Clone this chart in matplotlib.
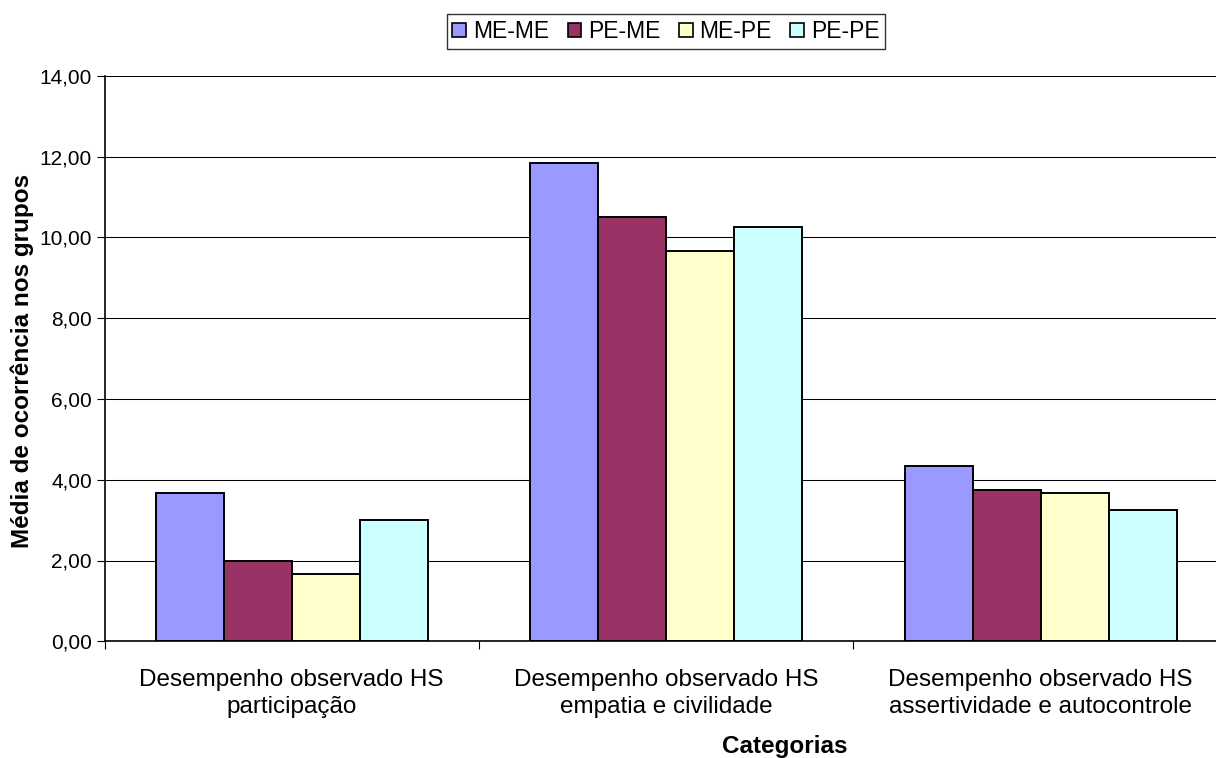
import matplotlib
matplotlib.use("Agg")
import matplotlib.pyplot as plt
import numpy as np
from matplotlib.ticker import FuncFormatter, FixedLocator
from matplotlib.patches import Patch

plt.rcParams['font.family'] = ['Liberation Sans', 'DejaVu Sans']

categories = ["Desempenho observado HS\nparticipação",
              "Desempenho observado HS\nempatia e civilidade",
              "Desempenho observado HS\nassertividade e autocontrole"]
series_names = ["ME-ME", "PE-ME", "ME-PE", "PE-PE"]
me_me = [3.67, 11.83, 4.33]
pe_me = [2.00, 10.50, 3.75]
me_pe = [1.67, 9.67, 3.67]
pe_pe = [3.00, 10.25, 3.25]
series_values = [me_me, pe_me, me_pe, pe_pe]
colors = ["#9999FF", "#993366", "#FFFFCC", "#CCFFFF"]
y_ticks = [0, 2, 4, 6, 8, 10, 12, 14]

fig = plt.figure(figsize=(12.16, 7.58), dpi=100)
ax = fig.add_axes([104.5 / 1216, 1 - 641.3 / 758, (1228 - 104.5) / 1216, (641.3 - 75.7) / 758])

x = np.arange(len(categories))
w = 1 / 5.5
for i, (vals, c) in enumerate(zip(series_values, colors)):
    ax.bar(x + (i - 1.5) * w, vals, width=w, color=c, edgecolor='black', linewidth=1.4, zorder=3)

ax.set_xlim(-0.5, 2.5)
ax.set_ylim(0, 14)
ax.yaxis.set_major_locator(FixedLocator(y_ticks))
ax.yaxis.set_major_formatter(FuncFormatter(lambda v, p: f"{v:.2f}".replace('.', ',')))
ax.grid(axis='y', color='black', linewidth=0.75, zorder=0)
ax.set_axisbelow(True)

ax.set_xticks(np.arange(-0.5, 3.0, 1.0))
ax.set_xticklabels([])
ax.set_xticks(x, minor=True)
ax.set_xticklabels(categories, minor=True, fontsize=17.5, linespacing=1.3)
ax.tick_params(axis='x', which='minor', length=0, pad=20)
ax.tick_params(axis='x', which='major', length=6, width=0.8, direction='out', color='black')
ax.tick_params(axis='y', length=6, width=0.8, direction='out', labelsize=15, pad=3)

for s in ['top', 'right']:
    ax.spines[s].set_visible(False)
ax.spines['left'].set_linewidth(1.2)
ax.spines['bottom'].set_linewidth(1.2)

fig.text(785 / 1216, 1 - 746 / 758, "Categorias", ha='center', va='center', fontsize=17.5, fontweight='bold')
fig.text(22 / 1216, 1 - 361 / 758, "Média de ocorrência nos grupos", ha='center', va='center',
         rotation=90, fontsize=17.5, fontweight='bold')

handles = [Patch(facecolor=c, edgecolor='black', linewidth=1.2) for c in colors]
leg = fig.legend(handles, series_names, loc='center', bbox_to_anchor=(666 / 1216, 1 - 31.5 / 758),
                 ncol=4, fontsize=16.5, frameon=True, fancybox=False, edgecolor='black',
                 handlelength=0.6, handleheight=0.6, handletextpad=0.3, columnspacing=0.8,
                 borderpad=0.25, borderaxespad=0)
leg.get_frame().set_linewidth(1.0)

fig.savefig("out.png", dpi=100)
